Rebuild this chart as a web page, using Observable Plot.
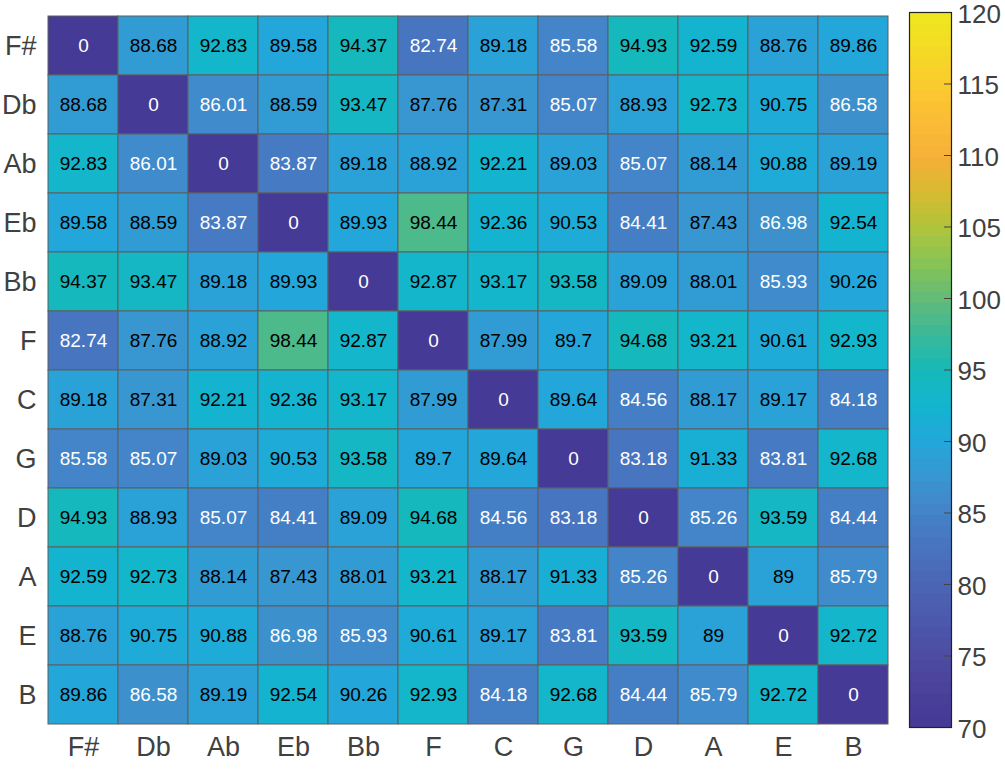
<!DOCTYPE html>
<html>
<head>
<meta charset="utf-8">
<script src="https://cdn.jsdelivr.net/npm/d3@7"></script>
<script src="https://cdn.jsdelivr.net/npm/@observablehq/plot@0.6"></script>
<style>
  html, body { margin: 0; padding: 0; background: #fff; }
  #wrap { position: relative; width: 1005px; height: 770px; font-family: "Liberation Sans", Arial, Helvetica, sans-serif; }
  #main { position: absolute; left: 0; top: 0; }
  #bar { position: absolute; left: 900px; top: 0; }
</style>
</head>
<body>
<div id="wrap"><div id="main"></div><div id="bar"></div></div>
<script>
// Categories (rows top→bottom, columns left→right)
const keys = ["F#", "Db", "Ab", "Eb", "Bb", "F", "C", "G", "D", "A", "E", "B"];

// Matrix values, one array per row
const rowFs = [0, 88.68, 92.83, 89.58, 94.37, 82.74, 89.18, 85.58, 94.93, 92.59, 88.76, 89.86];
const rowDb = [88.68, 0, 86.01, 88.59, 93.47, 87.76, 87.31, 85.07, 88.93, 92.73, 90.75, 86.58];
const rowAb = [92.83, 86.01, 0, 83.87, 89.18, 88.92, 92.21, 89.03, 85.07, 88.14, 90.88, 89.19];
const rowEb = [89.58, 88.59, 83.87, 0, 89.93, 98.44, 92.36, 90.53, 84.41, 87.43, 86.98, 92.54];
const rowBb = [94.37, 93.47, 89.18, 89.93, 0, 92.87, 93.17, 93.58, 89.09, 88.01, 85.93, 90.26];
const rowF  = [82.74, 87.76, 88.92, 98.44, 92.87, 0, 87.99, 89.7, 94.68, 93.21, 90.61, 92.93];
const rowC  = [89.18, 87.31, 92.21, 92.36, 93.17, 87.99, 0, 89.64, 84.56, 88.17, 89.17, 84.18];
const rowG  = [85.58, 85.07, 89.03, 90.53, 93.58, 89.7, 89.64, 0, 83.18, 91.33, 83.81, 92.68];
const rowD  = [94.93, 88.93, 85.07, 84.41, 89.09, 94.68, 84.56, 83.18, 0, 85.26, 93.59, 84.44];
const rowA  = [92.59, 92.73, 88.14, 87.43, 88.01, 93.21, 88.17, 91.33, 85.26, 0, 89, 85.79];
const rowE  = [88.76, 90.75, 90.88, 86.98, 85.93, 90.61, 89.17, 83.81, 93.59, 89, 0, 92.72];
const rowB  = [89.86, 86.58, 89.19, 92.54, 90.26, 92.93, 84.18, 92.68, 84.44, 85.79, 92.72, 0];
const rows = [rowFs, rowDb, rowAb, rowEb, rowBb, rowF, rowC, rowG, rowD, rowA, rowE, rowB];

// Colour bar
const colorDomain = [70, 120];
const colorTicks = [70, 75, 80, 85, 90, 95, 100, 105, 110, 115, 120];
const nLevels = 64;

// Colormap stops (parula-like, as rendered)
const colorStops = [
  "#453a95", "#4a429b", "#4c4ea4", "#4c5aad", "#4b66b5", "#4874be", "#4384c8",
  "#3897d0", "#22a7db", "#12b5cf", "#16b9b8", "#3bb999", "#62bb78", "#86c455",
  "#aec43c", "#d6bb30", "#f5b03a", "#fbbb36", "#fbc930", "#f5d925", "#efe61f"
];
const smooth = d3.piecewise(d3.interpolateRgb, colorStops);
const colormap = t => smooth(Math.min(nLevels - 1, Math.max(0, Math.floor(t * nLevels))) / (nLevels - 1));

const colorScale = {type: "linear", domain: colorDomain, clamp: true, interpolate: colormap};

const cells = [];
rows.forEach((r, i) => r.forEach((v, j) => cells.push({row: keys[i], col: keys[j], value: v})));

const font = "'Liberation Sans', Arial, Helvetica, sans-serif";

const main = Plot.plot({
  width: 891, height: 770,
  marginLeft: 46, marginRight: 1, marginTop: 12, marginBottom: 43,
  style: {fontFamily: font, background: "transparent"},
  x: {domain: keys, padding: 0, axis: null, label: null},
  y: {domain: keys, padding: 0, axis: null, label: null},
  color: colorScale,
  marks: [
    Plot.cell(cells, {x: "col", y: "row", fill: "value", stroke: "#5f5f5f", strokeWidth: 1}),
    Plot.text(cells, {x: "col", y: "row", text: d => String(d.value), fontSize: 19,
      fill: d => d.value < 87 ? "#ffffff" : "#000000"}),
    Plot.axisX({anchor: "bottom", tickSize: 0, tickPadding: 9, fontSize: 27, color: "#404040", label: null}),
    Plot.axisY({anchor: "left", tickSize: 0, tickPadding: 10, fontSize: 27, color: "#404040", label: null})
  ]
});
document.getElementById("main").appendChild(main);

const step = (colorDomain[1] - colorDomain[0]) / nLevels;
const levels = d3.range(nLevels).map(i => colorDomain[0] + i * step);

const bar = Plot.plot({
  width: 105, height: 770,
  marginLeft: 9, marginRight: 54, marginTop: 12, marginBottom: 43,
  style: {fontFamily: font, background: "transparent"},
  x: {domain: [0, 1], axis: null},
  y: {domain: colorDomain, axis: null},
  color: colorScale,
  marks: [
    Plot.rect(levels, {x1: 0, x2: 1, y1: d => d, y2: d => d + step, fill: d => d + step / 2,
      stroke: d => d + step / 2, strokeWidth: 0.6, shapeRendering: "crispEdges"}),
    Plot.tickY(colorTicks, {y: d => d, stroke: "#444", strokeWidth: 1, insetLeft: 35}),
    Plot.frame({stroke: "#222", strokeWidth: 1.2}),
    Plot.axisY(colorTicks, {anchor: "right", tickSize: 0, tickPadding: 6, fontSize: 26, dy: 2, color: "#404040", label: null})
  ]
});
document.getElementById("bar").appendChild(bar);
</script>
</body>
</html>
